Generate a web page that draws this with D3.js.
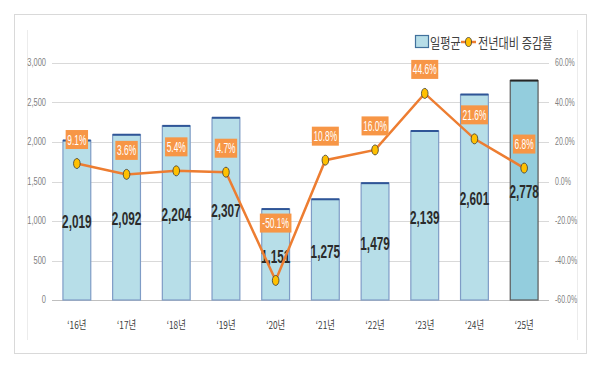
<!DOCTYPE html>
<html>
<head>
<meta charset="utf-8">
<script src="https://cdn.jsdelivr.net/npm/d3@7"></script>
<style>
  body { margin: 0; background: #fff; }
  text { font-family: "Liberation Sans Narrow", "Liberation Sans", Arial, sans-serif; }
  .kr { font-family: "Noto Sans CJK KR", sans-serif; }
</style>
</head>
<body>
<div id="chart"></div>
<script>
// chart data
const years = ["‘16년", "‘17년", "‘18년", "‘19년", "‘20년", "‘21년", "‘22년", "‘23년", "‘24년", "‘25년"];
const dailyAvg = [2019, 2092, 2204, 2307, 1151, 1275, 1479, 2139, 2601, 2778];
const yoyRate = [9.1, 3.6, 5.4, 4.7, -50.1, 10.8, 16.0, 44.6, 21.6, 6.8];
const leftTicks = [0, 500, 1000, 1500, 2000, 2500, 3000];
const rightTicks = [-60, -40, -20, 0, 20, 40, 60];
const legendNames = ["일평균", "전년대비 증감률"];

const W = 600, H = 366;

const svg = d3.select("#chart")
  .append("svg")
  .attr("width", W)
  .attr("height", H);

// outer frame + inner frame lines
svg.append("rect")
  .attr("x", 14.5).attr("y", 14.5)
  .attr("width", 572).attr("height", 339)
  .attr("fill", "#fff")
  .attr("stroke", "#d9d9d9");
svg.append("line").attr("x1", 27.5).attr("x2", 27.5).attr("y1", 30).attr("y2", 340).attr("stroke", "#ececec");
svg.append("line").attr("x1", 577.5).attr("x2", 577.5).attr("y1", 30).attr("y2", 340).attr("stroke", "#ececec");

const x = d3.scaleBand()
  .domain(years)
  .range([52, 549])
  .paddingInner(0.44)
  .paddingOuter(0.22);

const y = d3.scaleLinear().domain([0, 3000]).range([300, 63]);
const y2 = d3.scaleLinear().domain([-60, 60]).range([300, 63]);

// gridlines
svg.append("g")
  .selectAll("line")
  .data(leftTicks)
  .join("line")
  .attr("x1", 52).attr("x2", 549)
  .attr("y1", d => Math.round(y(d)) + 0.5)
  .attr("y2", d => Math.round(y(d)) + 0.5)
  .attr("stroke", d => d === 0 ? "#bfbfbf" : "#d9d9d9")
  .attr("stroke-width", 1.2);

// narrow text helper (the reference text is strongly condensed)
function narrow(sel, sx) {
  return sel.attr("transform", function () {
    const tx = +this.getAttribute("data-x"), ty = +this.getAttribute("data-y");
    return `translate(${tx},${ty}) scale(${sx},1)`;
  });
}

// left axis labels
svg.append("g")
  .selectAll("text")
  .data(leftTicks)
  .join("text")
  .attr("data-x", 46).attr("data-y", d => y(d) + 3)
  .attr("text-anchor", "end")
  .attr("font-size", 10)
  .attr("fill", "#7f7f7f")
  .text(d => d3.format(",")(d))
  .call(narrow, 0.75);

// right axis labels
svg.append("g")
  .selectAll("text")
  .data(rightTicks)
  .join("text")
  .attr("data-x", 555).attr("data-y", d => y2(d) + 3)
  .attr("text-anchor", "start")
  .attr("font-size", 10)
  .attr("fill", "#7f7f7f")
  .text(d => d.toFixed(1) + "%")
  .call(narrow, 0.7);

// x labels
svg.append("g")
  .selectAll("text")
  .data(years)
  .join("text")
  .attr("class", "kr")
  .attr("data-x", d => x(d) + x.bandwidth() / 2).attr("data-y", 329)
  .attr("text-anchor", "middle")
  .attr("font-size", 11)
  .attr("fill", "#404040")
  .text(d => d)
  .call(narrow, 0.75);

// bars
const last = years.length - 1;
const bars = svg.append("g");
bars.selectAll("rect")
  .data(dailyAvg)
  .join("rect")
  .attr("x", (d, i) => x(years[i]))
  .attr("y", d => y(d))
  .attr("width", x.bandwidth())
  .attr("height", d => y(0) - y(d))
  .attr("fill", (d, i) => i === last ? "#93cddd" : "#b7dee8")
  .attr("stroke", (d, i) => i === last ? "#595959" : "#7f9cc6")
  .attr("stroke-width", 1.2);
// darker top edge
bars.selectAll("line")
  .data(dailyAvg)
  .join("line")
  .attr("x1", (d, i) => x(years[i]))
  .attr("x2", (d, i) => x(years[i]) + x.bandwidth())
  .attr("y1", d => y(d))
  .attr("y2", d => y(d))
  .attr("stroke", (d, i) => i === last ? "#262626" : "#2f5597")
  .attr("stroke-width", 2);

// bar value labels
svg.append("g")
  .selectAll("text")
  .data(dailyAvg)
  .join("text")
  .attr("data-x", (d, i) => x(years[i]) + x.bandwidth() / 2)
  .attr("data-y", d => (y(d) + y(0)) / 2 + 8)
  .attr("text-anchor", "middle")
  .attr("font-size", 19)
  .attr("font-weight", "bold")
  .attr("fill", "#2b2b2b")
  .text(d => d3.format(",")(d))
  .call(narrow, 0.62);

// line
const cx = (d, i) => x(years[i]) + x.bandwidth() / 2;
svg.append("path")
  .datum(yoyRate)
  .attr("fill", "none")
  .attr("stroke", "#ed7d31")
  .attr("stroke-width", 2.5)
  .attr("d", d3.line().x(cx).y(d => y2(d)));

svg.append("g")
  .selectAll("ellipse")
  .data(yoyRate)
  .join("ellipse")
  .attr("cx", cx)
  .attr("cy", d => y2(d))
  .attr("rx", 3.3)
  .attr("ry", 5)
  .attr("fill", "#ffc000")
  .attr("stroke", "#3a3a3a")
  .attr("stroke-width", 0.8);

// rate labels (orange boxes); negative one sits just under the bar top
const labelY = (d, i) => d < 0 ? y(dailyAvg[i]) + 14 : y2(d) - 24;
const boxW = d => (d.toFixed(1) + "%").length * 4.6 + 4;
const rl = svg.append("g")
  .selectAll("g")
  .data(yoyRate)
  .join("g")
  .attr("transform", (d, i) => `translate(${cx(d, i)},${labelY(d, i)})`);
rl.append("rect")
  .attr("x", d => -boxW(d) / 2)
  .attr("y", -9.5)
  .attr("width", boxW)
  .attr("height", 19)
  .attr("fill", "#f79646");
rl.append("text")
  .attr("data-x", 0).attr("data-y", 5)
  .attr("text-anchor", "middle")
  .attr("font-size", 14)
  .attr("fill", "#fff")
  .text(d => d.toFixed(1) + "%")
  .call(narrow, 0.6);

// legend
const lg = svg.append("g");
lg.append("rect")
  .attr("x", 415.5).attr("y", 35.5)
  .attr("width", 13).attr("height", 12)
  .attr("fill", "#b7dee8")
  .attr("stroke", "#41719c")
  .attr("stroke-width", 1.2);
lg.append("text")
  .attr("class", "kr")
  .attr("data-x", 430).attr("data-y", 48)
  .attr("font-size", 14)
  .attr("fill", "#404040")
  .text(legendNames[0])
  .call(narrow, 0.8);
lg.append("line")
  .attr("x1", 461).attr("x2", 476)
  .attr("y1", 42).attr("y2", 42)
  .attr("stroke", "#ed7d31")
  .attr("stroke-width", 2.5);
lg.append("ellipse")
  .attr("cx", 468.5).attr("cy", 42)
  .attr("rx", 3).attr("ry", 4.5)
  .attr("fill", "#ffc000")
  .attr("stroke", "#3a3a3a")
  .attr("stroke-width", 0.8);
lg.append("text")
  .attr("class", "kr")
  .attr("data-x", 478).attr("data-y", 48)
  .attr("font-size", 14)
  .attr("fill", "#404040")
  .text(legendNames[1])
  .call(narrow, 0.8);
</script>
</body>
</html>
